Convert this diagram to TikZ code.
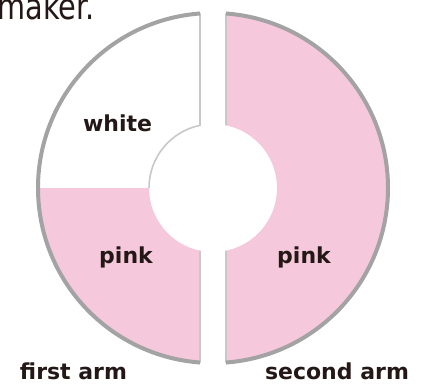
\documentclass[tikz,border=0pt]{standalone}
\usepackage{fontspec}
\setmainfont{DejaVu Sans}
\usetikzlibrary{positioning}
\definecolor{armpink}{HTML}{F5C8DC}
\definecolor{rimgray}{HTML}{A3A3A3}
\definecolor{cutgray}{HTML}{C8C8C8}
\definecolor{inkblack}{HTML}{231815}

\begin{document}
\begin{tikzpicture}[x=1pt,y=1pt,
    lbl/.style={font=\fontsize{22}{22}\selectfont\bfseries, text=inkblack, inner sep=0pt, anchor=base},
    rim/.style={draw=rimgray, line width=4pt},
    cutline/.style={draw=cutgray, line width=1.6pt}]
    \useasboundingbox (-213,-195) rectangle (214,188);
    \clip (-213,-195) rectangle (214,188);

    % First arm, upper quarter (white)
    \fill[white] (94.26:175) arc[start angle=94.26, end angle=180, radius=175] -- (-64,0)
        arc[start angle=180, end angle=101.72, radius=64] -- cycle;

    % First arm, lower quarter (pink)
    \fill[armpink] (180:175) arc[start angle=180, end angle=265.74, radius=175] -- (258.28:64)
        arc[start angle=258.28, end angle=180, radius=64] -- cycle;

    % Second arm (pink)
    \fill[armpink] (85.74:175) arc[start angle=85.74, end angle=-85.74, radius=175] -- (-78.28:64)
        arc[start angle=-78.28, end angle=78.28, radius=64] -- cycle;

    % Cut edges
    \draw[cutline] (94.26:175) -- (101.72:64) arc[start angle=101.72, end angle=180, radius=64];
    \draw[cutline] (258.28:64) -- (265.74:175);
    \draw[cutline] (85.74:175) -- (78.28:64);
    \draw[cutline] (-78.28:64) -- (-85.74:175);

    % Outer rims
    \draw[rim] (94.26:175) arc[start angle=94.26, end angle=265.74, radius=175];
    \draw[rim] (85.74:175) arc[start angle=85.74, end angle=-85.74, radius=175];

    % Labels
    \node[lbl] (white) at (-95.5,57) {white};
    \node[lbl] (pinkfirst) at (-87,-75) {pink};
    \node[lbl] (pinksecond) at (91,-75) {pink};
    \node[lbl] (firstarm) at (-139.5,-191) {first arm};
    \node[lbl] (secondarm) at (124,-191) {second arm};

    % Cut-off caption
    \node[font=\fontsize{36}{36}\selectfont, xscale=0.8, text=inkblack, inner sep=0pt, anchor=base east] (maker) at (-118,168) {maker.};
\end{tikzpicture}
\end{document}
